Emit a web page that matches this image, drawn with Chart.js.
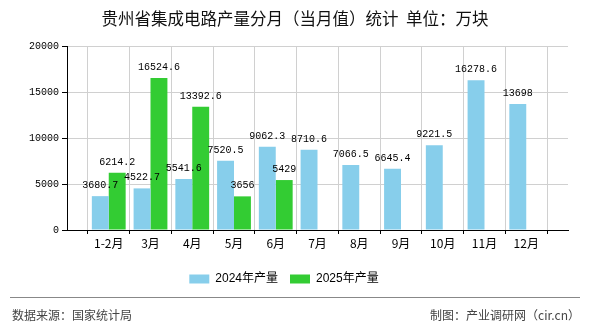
<!DOCTYPE html>
<html>
<head>
<meta charset="utf-8">
<script src="https://cdn.jsdelivr.net/npm/chart.js@4/dist/chart.umd.min.js"></script>
<style>
  html, body { margin: 0; padding: 0; background: #fff; }
  #wrap { position: relative; width: 590px; height: 330px; overflow: hidden; }
  #chart { position: absolute; left: 0; top: 0; }
  .title { position: absolute; left: 0; top: 8px; width: 590px; text-align: center;
    font: 16.5px "Noto Sans CJK SC", sans-serif; line-height: 20px; color: #111; }
  .rule { position: absolute; left: 10px; top: 297px; width: 570px; height: 0; border-top: 1px solid #888; }
  .foot { position: absolute; top: 306px; font: 12px "Noto Sans CJK SC", sans-serif; line-height: 18px; color: #444; }
</style>
</head>
<body>
<div id="wrap">
  <canvas id="chart" width="590" height="330"></canvas>
  <div class="title">贵州省集成电路产量分月（当月值）统计&nbsp;&nbsp;单位：万块</div>
  <div class="rule"></div>
  <div class="foot" style="left:12px">数据来源：国家统计局</div>
  <div class="foot" style="right:10px">制图：产业调研网（cir.cn）</div>
</div>
<script>
"use strict";

const categories = ["1-2月", "3月", "4月", "5月", "6月", "7月", "8月", "9月", "10月", "11月", "12月"];
const values2024 = [3680.7, 4522.7, 5541.6, 7520.5, 9062.3, 8710.6, 7066.5, 6645.4, 9221.5, 16278.6, 13698];
const values2025 = [6214.2, 16524.6, 13392.6, 3656, 5429, null, null, null, null, null, null];
const seriesNames = ["2024年产量", "2025年产量"];
const yMin = 0;
const yMax = 20000;
const yStep = 5000;

// one empty slot on each side, like the original axis
const pad = arr => [null, ...arr, null];

const valueLabels = {
  id: "valueLabels",
  afterDatasetsDraw(chart) {
    const ctx = chart.ctx;
    ctx.save();
    ctx.font = '10px "Liberation Mono", monospace';
    ctx.fillStyle = "#000";
    ctx.textAlign = "center";
    ctx.textBaseline = "alphabetic";
    chart.data.datasets.forEach((ds, i) => {
      chart.getDatasetMeta(i).data.forEach((bar, j) => {
        const v = ds.data[j];
        if (v == null) return;
        ctx.fillText(String(v), bar.x, bar.y - 8);
      });
    });
    ctx.restore();
  }
};

const ctx = document.getElementById("chart").getContext("2d");
new Chart(ctx, {
  type: "bar",
  data: {
    labels: ["", ...categories, ""],
    datasets: [
      { label: seriesNames[0], data: pad(values2024), backgroundColor: "#87CEEB" },
      { label: seriesNames[1], data: pad(values2025), backgroundColor: "#33CC33" }
    ]
  },
  options: {
    responsive: false,
    animation: false,
    layout: { padding: { top: 46, left: 0, right: 22, bottom: 35 } },
    datasets: { bar: { categoryPercentage: 0.81, barPercentage: 1.0 } },
    plugins: {
      legend: {
        position: "bottom",
        labels: {
          boxWidth: 20,
          boxHeight: 9,
          padding: 12,
          color: "#000",
          font: { size: 12, family: '"Liberation Sans", "Noto Sans CJK SC", sans-serif' }
        }
      },
      tooltip: { enabled: false }
    },
    scales: {
      x: {
        offset: false,
        afterFit(scale) { scale.height = 31; },
        border: { color: "#000", width: 1 },
        grid: { color: "#d0d0d0", tickColor: "#000", tickLength: 4 },
        ticks: {
          autoSkip: false, maxRotation: 0, padding: 2, color: "#000",
          font: { size: 12, family: '"Noto Sans CJK SC", sans-serif' }
        }
      },
      y: {
        min: yMin,
        max: yMax,
        afterFit(scale) { scale.width = 67; },
        border: { color: "#000", width: 1 },
        grid: { color: "#d0d0d0", tickColor: "#000", tickLength: 5 },
        ticks: {
          stepSize: yStep, padding: 3, color: "#000",
          callback: v => String(v),
          font: { size: 10, family: '"Liberation Mono", monospace' }
        }
      }
    }
  },
  plugins: [valueLabels]
});
</script>
</body>
</html>
